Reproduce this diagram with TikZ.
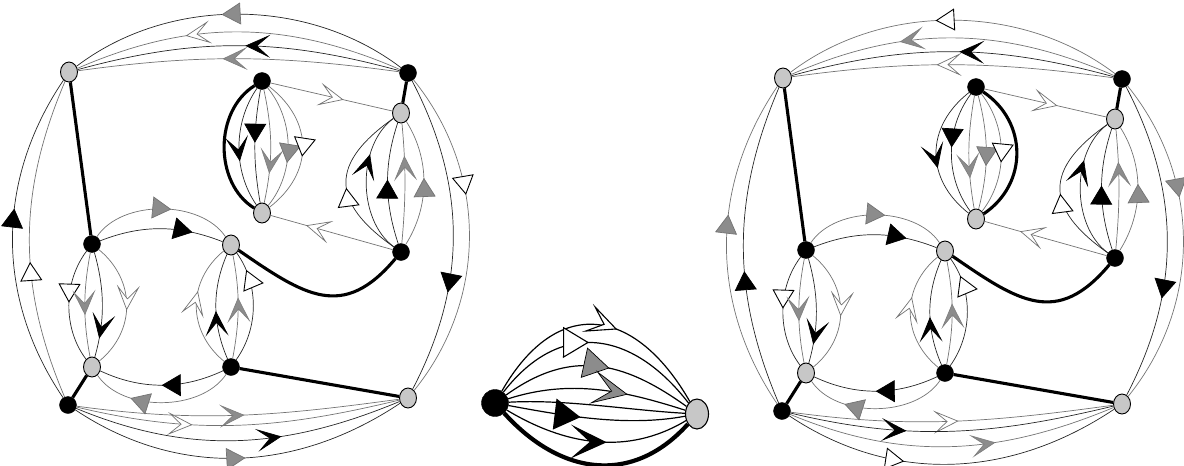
\documentclass[tikz,border=0pt]{standalone}
\usetikzlibrary{arrows.meta,decorations.markings,shapes.geometric}
\tikzset{
 triB/.tip={Triangle[length=19pt,width=22pt,color=black,fill=black]},
 triG/.tip={Triangle[length=19pt,width=22pt,color=black!55,fill=black!45]},
 triW/.tip={Triangle[length=19pt,width=22pt,color=black,fill=white,line width=0.9pt]},
 chB/.tip={Stealth[length=25pt,width=23pt,inset=13pt,color=black,fill=black]},
 chG/.tip={Stealth[length=25pt,width=23pt,inset=13pt,color=black!50,fill=black!45]},
 chW/.tip={Stealth[length=25pt,width=23pt,inset=13pt,color=black!55,fill=white,line width=0.7pt]},
 triBb/.tip={Triangle[length=26pt,width=31pt,color=black,fill=black]},
 triGb/.tip={Triangle[length=26pt,width=31pt,color=black,fill=black!45,line width=0.7pt]},
 triWb/.tip={Triangle[length=26pt,width=31pt,color=black,fill=white,line width=1.1pt]},
 chBb/.tip={Stealth[length=36pt,width=34pt,inset=19pt,color=black,fill=black]},
 chGb/.tip={Stealth[length=36pt,width=34pt,inset=19pt,color=black,fill=black!45,line width=0.7pt]},
 chWb/.tip={Stealth[length=32pt,width=30pt,inset=17pt,color=black,fill=white,line width=1.1pt]},
 ar/.style 2 args={postaction={decorate,decoration={markings,mark=at position #1 with {\arrow{#2}}}}},
 ln/.style={draw=black!85,line width=0.7pt},
 lg/.style={draw=black!55,line width=0.7pt},
 lm/.style={draw=black,line width=1.2pt},
 thk/.style={draw=black,line width=3.1pt},
 bn/.style={circle,fill=black,draw=black,minimum size=17pt,inner sep=0pt},
 gn/.style={ellipse,fill=black!22,draw=black,line width=0.9pt,minimum width=17pt,minimum height=20pt,inner sep=0pt},
}
\newcommand{\dgnodes}[1]{%
 \node[gn] (#1A) at (69,72) {};
 \node[bn] (#1B) at (408,73) {};
 \node[bn] (#1C) at (262,81) {};
 \node[gn] (#1D) at (401,113) {};
 \node[gn] (#1E) at (262,213) {};
 \node[bn] (#1F) at (401,252) {};
 \node[bn] (#1G) at (92,244) {};
 \node[gn] (#1H) at (231,245) {};
 \node[gn] (#1I) at (92,367) {};
 \node[bn] (#1J) at (231,367) {};
 \node[bn] (#1K) at (68,405) {};
 \node[gn] (#1L) at (408,398) {};
}
\newcommand{\dgcommon}[1]{%
 \draw[thk] (#1A) -- (#1G);
 \draw[thk] (#1B) -- (#1D);
 \draw[thk] (#1I) -- (#1K);
 \draw[thk] (#1J) -- (#1L);
 \draw[thk] (#1H) .. controls +(74,51) and +(-58,69) .. (#1F);
 \draw[lg, ar={0.6}{chW}] (#1C) -- (#1D);
 \draw[lg, ar={0.71}{chW}] (#1F) -- (#1E);
 % G -> H
 \draw[lg, ar={0.57}{triG}] (#1G) .. controls +(30,-45) and +(-30,-45) .. (#1H);
 \draw[ln, ar={0.75}{triB}] (#1G) .. controls +(51,-20) and +(-51,-20) .. (#1H);
 % J -> I
 \draw[ln, ar={0.5}{triB}] (#1J) .. controls +(-49,23) and +(49,23) .. (#1I);
 \draw[lg, ar={0.72}{triG}] (#1J) .. controls +(-30,45) and +(30,45) .. (#1I);
 % G -> I
 \draw[ln, ar={0.48}{triW}] (#1G) .. controls +(-29,38) and +(-29,-38) .. (#1I);
 \draw[lg, ar={0.6}{chG}] (#1G) .. controls +(-9,47) and +(-9,-47) .. (#1I);
 \draw[ln, ar={0.82}{chB}] (#1G) .. controls +(13,46) and +(13,-46) .. (#1I);
 \draw[lg, ar={0.54}{chW}] (#1G) .. controls +(44,36) and +(44,-36) .. (#1I);
 % J -> H
 \draw[lg, ar={0.62}{chW}] (#1J) .. controls +(-44,-36) and +(-44,36) .. (#1H);
 \draw[ln, ar={0.46}{chB}] (#1J) .. controls +(-19,-44) and +(-19,44) .. (#1H);
 \draw[lg, ar={0.59}{chG}] (#1J) .. controls +(9,-47) and +(9,47) .. (#1H);
 \draw[ln, ar={0.83}{triW}] (#1J) .. controls +(28,-39) and +(28,39) .. (#1H);
 % F -> D
 \draw[ln, ar={0.47}{triW}] (#1F) .. controls +(-71,-50) and +(-71,50) .. (#1D);
 \draw[ln, ar={0.7}{chB}] (#1F) .. controls +(-44,-32) and +(-44,32) .. (#1D);
 \draw[ln, ar={0.53}{triB}] (#1F) .. controls +(-17,-51) and +(-17,51) .. (#1D);
 \draw[lg, ar={0.73}{chG}] (#1F) .. controls +(5,-54) and +(5,54) .. (#1D);
 \draw[lg, ar={0.54}{triG}] (#1F) .. controls +(29,-46) and +(29,46) .. (#1D);
}
\begin{document}
\begin{tikzpicture}[x=1pt,y=-1pt]
\useasboundingbox (0,0) rectangle (1184,466);
% ---------- left figure ----------
\dgnodes{l}
\dgcommon{l}
\draw[ln, ar={0.55}{triG}] (lB) .. controls +(-100,-76) and +(100,-76) .. (lA);
\draw[lg, ar={0.66}{chW}] (lB) .. controls +(-122,-53) and +(122,-53) .. (lA);
\draw[ln, ar={0.48}{chB}] (lB) .. controls +(-128,-35) and +(128,-35) .. (lA);
\draw[lg, ar={0.55}{chG}] (lB) .. controls +(-131,-18) and +(131,-18) .. (lA);
\draw[ln, ar={0.59}{triB}] (lK) .. controls +(-73,-108) and +(-73,108) .. (lA);
\draw[lg, ar={0.43}{triW}] (lK) .. controls +(-51,-120) and +(-51,120) .. (lA);
\draw[lg, ar={0.38}{triW}] (lB) .. controls +(80,99) and +(80,-99) .. (lL);
\draw[ln, ar={0.68}{triB}] (lB) .. controls +(59,113) and +(59,-113) .. (lL);
\draw[lg, ar={0.52}{chG}] (lK) .. controls +(132,18) and +(-132,18) .. (lL);
\draw[lg, ar={0.36}{chW}] (lK) .. controls +(129,31) and +(-129,31) .. (lL);
\draw[ln, ar={0.63}{chB}] (lK) .. controls +(123,51) and +(-123,51) .. (lL);
\draw[ln, ar={0.52}{triG}] (lK) .. controls +(111,74) and +(-111,74) .. (lL);
\draw[thk] (lC) .. controls +(-48,30) and +(-48,-30) .. (lE);
\draw[ln, ar={0.62}{chB}] (lC) .. controls +(-29,42) and +(-29,-42) .. (lE);
\draw[ln, ar={0.47}{triB}] (lC) .. controls +(-9,51) and +(-9,-51) .. (lE);
\draw[lg, ar={0.74}{chG}] (lC) .. controls +(11,51) and +(11,-51) .. (lE);
\draw[lg, ar={0.63}{triG}] (lC) .. controls +(33,40) and +(33,-40) .. (lE);
\draw[lg, ar={0.57}{triW}] (lC) .. controls +(52,40) and +(52,-40) .. (lE);
% ---------- right figure ----------
\begin{scope}[shift={(714,6)}]
\dgnodes{r}
\dgcommon{r}
\draw[lg, ar={0.55}{triW}] (rB) .. controls +(-100,-76) and +(100,-76) .. (rA);
\draw[lg, ar={0.66}{chG}] (rB) .. controls +(-122,-53) and +(122,-53) .. (rA);
\draw[ln, ar={0.48}{chB}] (rB) .. controls +(-128,-35) and +(128,-35) .. (rA);
\draw[lg, ar={0.55}{chW}] (rB) .. controls +(-131,-18) and +(131,-18) .. (rA);
\draw[lg, ar={0.59}{triG}] (rK) .. controls +(-73,-108) and +(-73,108) .. (rA);
\draw[ln, ar={0.42}{triB}] (rK) .. controls +(-51,-120) and +(-51,120) .. (rA);
\draw[lg, ar={0.37}{triG}] (rB) .. controls +(80,99) and +(80,-99) .. (rL);
\draw[ln, ar={0.68}{triB}] (rB) .. controls +(59,113) and +(59,-113) .. (rL);
\draw[lg, ar={0.52}{chW}] (rK) .. controls +(132,18) and +(-132,18) .. (rL);
\draw[ln, ar={0.36}{chB}] (rK) .. controls +(129,31) and +(-129,31) .. (rL);
\draw[lg, ar={0.63}{chG}] (rK) .. controls +(123,51) and +(-123,51) .. (rL);
\draw[ln, ar={0.36}{triW}] (rK) .. controls +(111,74) and +(-111,74) .. (rL);
\draw[ln, ar={0.61}{chB}] (rC) .. controls +(-51,40) and +(-51,-40) .. (rE);
\draw[ln, ar={0.46}{triB}] (rC) .. controls +(-31,42) and +(-31,-42) .. (rE);
\draw[lg, ar={0.73}{chG}] (rC) .. controls +(-9,51) and +(-9,-51) .. (rE);
\draw[lg, ar={0.62}{triG}] (rC) .. controls +(13,50) and +(13,-50) .. (rE);
\draw[lg, ar={0.58}{triW}] (rC) .. controls +(32,41) and +(32,-41) .. (rE);
\draw[thk] (rC) .. controls +(52,35) and +(52,-35) .. (rE);
\end{scope}
% ---------- middle figure ----------
\node[circle,fill=black,draw=black,minimum size=27pt,inner sep=0pt] (m1) at (495,403) {};
\node[ellipse,fill=black!22,draw=black,line width=1.1pt,minimum width=23pt,minimum height=30pt,inner sep=0pt] (m2) at (697,414) {};
\draw[lm, ar={0.58}{chWb}] (m1) .. controls +(62,-108) and +(-62,-108) .. (m2);
\draw[lm, ar={0.46}{triWb}] (m1) .. controls +(65,-84) and +(-65,-84) .. (m2);
\draw[lm, ar={0.56}{triGb}] (m1) .. controls +(75,-54) and +(-75,-54) .. (m2);
\draw[lm, ar={0.67}{chGb}] (m1) .. controls +(75,-24) and +(-75,-24) .. (m2);
\draw[lm] (m1) .. controls +(70,-4) and +(-70,-4) .. (m2);
\draw[lm, ar={0.41}{triBb}] (m1) .. controls +(70,13) and +(-70,13) .. (m2);
\draw[lm, ar={0.56}{chBb}] (m1) .. controls +(70,42) and +(-70,42) .. (m2);
\draw[draw=black,line width=4.2pt] (m1) .. controls +(65,72) and +(-65,72) .. (m2);
\end{tikzpicture}
\end{document}
